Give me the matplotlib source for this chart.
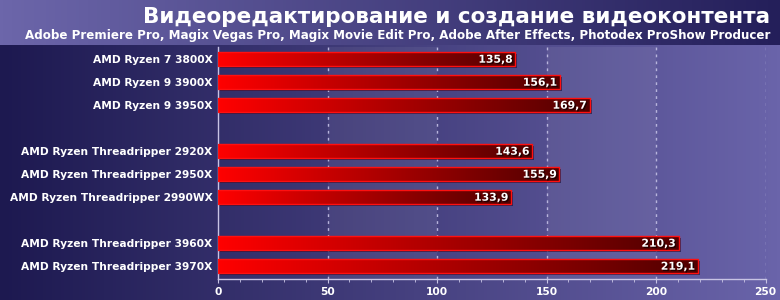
import numpy as np
import matplotlib.pyplot as plt
import matplotlib.patheffects as pe
from matplotlib.colors import LinearSegmentedColormap

title = "Видеоредактирование и создание видеоконтента"
subtitle = ("Adobe Premiere Pro, Magix Vegas Pro, Magix Movie Edit Pro, "
            "Adobe After Effects, Photodex ProShow Producer")
labels = ["AMD Ryzen 7 3800X", "AMD Ryzen 9 3900X", "AMD Ryzen 9 3950X",
          "AMD Ryzen Threadripper 2920X", "AMD Ryzen Threadripper 2950X",
          "AMD Ryzen Threadripper 2990WX",
          "AMD Ryzen Threadripper 3960X", "AMD Ryzen Threadripper 3970X"]
values = [135.8, 156.1, 169.7, 143.6, 155.9, 133.9, 210.3, 219.1]
rows = [0, 1, 2, 4, 5, 6, 8, 9]
xticks = [0, 50, 100, 150, 200, 250]

W, H = 780, 300
fig = plt.figure(figsize=(W / 100, H / 100), dpi=100)

# background: header gradient + body gradient
bg = fig.add_axes([0, 0, 1, 1])
bg.set_axis_off()
head_cmap = LinearSegmentedColormap.from_list("h", ["#6c66aa", "#241f5a"])
body_cmap = LinearSegmentedColormap.from_list("b", ["#1d1950", "#6a64aa"])
grad = np.linspace(0, 1, 256).reshape(1, -1)
bg.imshow(body_cmap(grad), extent=(0, W, 0, H - 45), aspect="auto")
bg.imshow(head_cmap(grad), extent=(0, W, H - 45, H), aspect="auto")
bg.set_xlim(0, W)
bg.set_ylim(0, H)

fig.text(770 / W, 1 - 17 / H, title, ha="right", va="center", color="white",
         fontsize=15.5, fontweight="bold")
fig.text(770 / W, 1 - 36 / H, subtitle, ha="right", va="center", color="white",
         fontsize=8.6, fontweight="bold")

# plot area
x0, x1 = 218, 765.5
top_px, bot_px = 47, 279
ax = fig.add_axes([x0 / W, 1 - bot_px / H, (x1 - x0) / W, (bot_px - top_px) / H])
ax.patch.set_alpha(0)
y_top = (top_px - 59) / 23
y_bot = (bot_px - 59) / 23

for a, b in [(50, 100), (150, 200)]:
    ax.axvspan(a, b, color="white", alpha=0.06, lw=0, zorder=0)
for x in xticks[1:]:
    ax.axvline(x, color="#b8b4dc", lw=1, ls=(0, (2, 3)), zorder=1)

bar_cmap = LinearSegmentedColormap.from_list("r", ["#ff0000", "#a80000", "#500000"])
bh = 0.57
px_x = 250 / (x1 - x0)
px_y = 1 / 23
for r, v in zip(rows, values):
    # shadow
    ax.add_patch(plt.Rectangle((2 * px_x, r - bh / 2 + 2 * px_y), v, bh,
                               color="#120e35", alpha=0.6, lw=0, zorder=2))
    ax.imshow(bar_cmap(grad), extent=(0, v, r + bh / 2, r - bh / 2),
              aspect="auto", zorder=3)
    ax.add_patch(plt.Rectangle((0, r - bh / 2), v, bh, fill=False,
                               edgecolor="#ff1010", lw=1, zorder=4))
    ax.text(v - 1.2, r + 0.03, f"{v:.1f}".replace(".", ","), ha="right",
            va="center", color="white", fontsize=7.8, fontweight="bold",
            zorder=5,
            path_effects=[pe.withSimplePatchShadow(offset=(1, -1),
                                                   shadow_rgbFace="black",
                                                   alpha=0.6)])

ax.set_xlim(0, 250)
ax.set_ylim(y_bot, y_top)
ax.set_yticks(rows)
ax.set_yticklabels(labels, color="white", fontsize=7.7, fontweight="bold")
ax.tick_params(axis="y", length=0, pad=4)
ax.set_xticks(xticks)
ax.set_xticklabels([str(t) for t in xticks], color="white", fontsize=7.7,
                   fontweight="bold")
ax.set_xticks(np.arange(0, 251, 10), minor=True)
ax.tick_params(axis="x", which="major", length=3, color="#c8c4e4", pad=3)
ax.tick_params(axis="x", which="minor", length=2, color="#c8c4e4")
for s in ["top", "right"]:
    ax.spines[s].set_visible(False)
for s in ["left", "bottom"]:
    ax.spines[s].set_color("#c8c4e4")
    ax.spines[s].set_linewidth(1)

fig.savefig("out.png", dpi=100)
